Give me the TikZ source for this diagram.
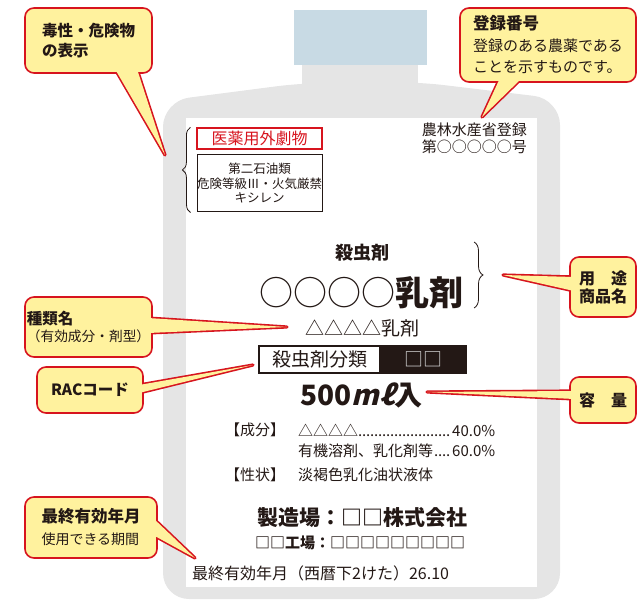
\documentclass[tikz,border=0pt]{standalone}
\usepackage{fontspec}
\setmainfont{Noto Sans CJK JP}
\newfontfamily\mlfont{Noto Sans CJK JP}[FakeSlant=0.25]
\usetikzlibrary{decorations.pathreplacing}
\definecolor{cred}{HTML}{D7141E}
\definecolor{cyel}{HTML}{FFF29E}
\definecolor{bgray}{HTML}{E5E5E5}
\definecolor{capblue}{HTML}{C8DAE4}
\definecolor{ink}{HTML}{231815}
\pgfdeclarelayer{bottle}
\pgfdeclarelayer{ptr}
\pgfsetlayers{bottle,ptr,main}
\newcommand\fsz[2]{\fontsize{#1}{#2}\selectfont}
\newcommand\leaderdots{\leaders\hbox to 4pt{\hss.\hss}\hfill}
\tikzset{
 callbox/.style={draw=cred, fill=cyel, line width=1.6pt, rounded corners=9pt, align=left, text=ink, inner sep=0pt},
 ptrline/.style={draw=cred, fill=cyel, line width=3.2pt, line join=round},
 txt/.style={text=ink, inner sep=0pt},
 thinbrace/.style={draw=ink, line width=0.8pt, decorate},
}
\newcommand\callptr[3]{%
 \begin{pgfonlayer}{ptr}\draw[ptrline] #1 -- #3 -- #2 -- cycle;\end{pgfonlayer}%
 \fill[cyel] #1 -- #3 -- #2 -- cycle;}
\begin{document}
\begin{tikzpicture}[x=1pt,y=-1pt]
\useasboundingbox (0,0) rectangle (637,601);
% ---------- bottle ----------
\begin{pgfonlayer}{bottle}
\fill[bgray] (302,55) rectangle (418,90);
\fill[bgray, rounded corners=26pt] (302,83) -- (163,101) -- (163,599) -- (560,599) -- (560,99) -- (418,82) -- cycle;
\fill[capblue] (294,10) rectangle (427,65);
\fill[white] (186,118) rectangle (537,587);
\end{pgfonlayer}
% ---------- label content ----------
\node[draw=cred, line width=1.2pt, minimum width=125pt, minimum height=21pt, inner sep=0pt, text=cred, font=\fsz{16}{18}] (redbox) at (259.5,138.5) {医薬用外劇物};
\node[draw=ink, line width=1pt, minimum width=125pt, minimum height=57pt, inner sep=0pt, text=ink, align=center, font=\fsz{12.5}{14.5}] (blkbox) at (259.5,183.5) {第二石油類\\危険等級Ⅲ・火気厳禁\\キシレン};
\draw[thinbrace, decoration={brace, amplitude=8pt}] ([xshift=-6pt]blkbox.south west) -- ([xshift=-6pt]redbox.north west);
\node[txt, anchor=east, align=right, font=\fsz{15}{17}] (reg) at (527,138.5) {農林水産省登録\\第○○○○○号};
\node[txt, font=\fsz{18}{20}\bfseries] (cat) at (362,253) {殺虫剤};
\node[txt, font=\fsz{34}{36}] (prod) at (361.5,293) {○○○○{\bfseries 乳剤}};
\draw[thinbrace, decoration={brace, amplitude=9pt}] (474,242) -- (474,308);
\node[txt, font=\fsz{19}{21}] (kind) at (362.5,328) {△△△△乳剤};
\node[draw=ink, line width=1.2pt, minimum width=121pt, minimum height=27pt, inner sep=0pt, text=ink, font=\fsz{19}{21}] (racL) at (319.5,359.5) {殺虫剤分類};
\node[draw=ink, fill=ink, line width=1.2pt, minimum width=86pt, minimum height=27pt, inner sep=0pt, text=white!85!black, font=\fsz{19}{21}] (racR) at (423,359.5) {□□};
\node[txt, font=\fsz{28}{30}\bfseries] (vol) at (361.5,395) {500{\mlfont\bfseries mℓ}入};
\node[txt, anchor=west, font=\fsz{15}{17}] (comp) at (225,430) {【成分】};
\node[txt, anchor=west, font=\fsz{15}{17}] (comp1) at (298,430) {\makebox[197pt]{△△△△\leaderdots 40.0\%}};
\node[txt, anchor=west, font=\fsz{15}{17}] (comp2) at (298,451) {\makebox[197pt]{有機溶剤、乳化剤等\leaderdots 60.0\%}};
\node[txt, anchor=west, font=\fsz{15}{17}] (prop) at (225,475) {【性状】};
\node[txt, anchor=west, font=\fsz{15}{17}] (prop1) at (298,475) {淡褐色乳化油状液体};
\node[txt, font=\fsz{21}{23}\bfseries] (mfr) at (362.5,518) {製造場：□□株式会社};
\node[txt, font=\fsz{15}{17}\bfseries] (fac) at (360,543) {□□工場：□□□□□□□□□};
\node[txt, anchor=west, font=\fsz{16}{18}] (exp) at (192,573) {最終有効年月（西暦下2けた）26.10};
% ---------- callouts ----------
\coordinate (t1) at (165,155);
\coordinate (t2) at (482,117);
\coordinate (t3) at (287,327);
\coordinate (t4) at (253,365);
\coordinate (t5) at (503,275);
\coordinate (t6) at (427,392);
\coordinate (t7) at (195,558);
\node[callbox, minimum width=127pt, minimum height=65pt, font=\fsz{15.5}{20}\bfseries] (c1) at (88.5,40.5) {毒性・危険物\\の表示};
\callptr{(115,69)}{(137,69)}{(t1)}
\node[callbox, minimum width=176pt, minimum height=74pt, font=\fsz{15}{21.5}] (c2) at (548,45) {{\fsz{16.5}{21.5}\bfseries 登録番号}\\登録のある農薬である\\ことを示すものです。};
\callptr{(500,78)}{(522,78)}{(t2)}
\node[callbox, minimum width=127pt, minimum height=60pt, font=\fsz{13.7}{17}] (c3) at (88.5,327) {{\fsz{15.5}{17}\bfseries 種類名}\\（有効成分・剤型）};
\callptr{(148,318)}{(148,333)}{(t3)}
\node[callbox, minimum width=106pt, minimum height=46pt, font=\fsz{15.5}{17}\bfseries] (c4) at (90,390) {RACコード};
\callptr{(139,385)}{(139,393)}{(t4)}
\node[callbox, minimum width=66pt, minimum height=60pt, font=\fsz{16}{18}\bfseries] (c5) at (603,287) {用\hspace{1em}途\\商品名};
\callptr{(574,277)}{(574,291)}{(t5)}
\node[callbox, minimum width=66pt, minimum height=46pt, font=\fsz{16}{18}\bfseries] (c6) at (603,400) {容\hspace{1em}量};
\callptr{(574,391)}{(574,399)}{(t6)}
\node[callbox, minimum width=132pt, minimum height=61pt, font=\fsz{14}{22}] (c7) at (91,527.5) {{\fsz{16.5}{22}\bfseries 最終有効年月}\\使用できる期間};
\callptr{(153,518)}{(153,535)}{(t7)}
\end{tikzpicture}
\end{document}
